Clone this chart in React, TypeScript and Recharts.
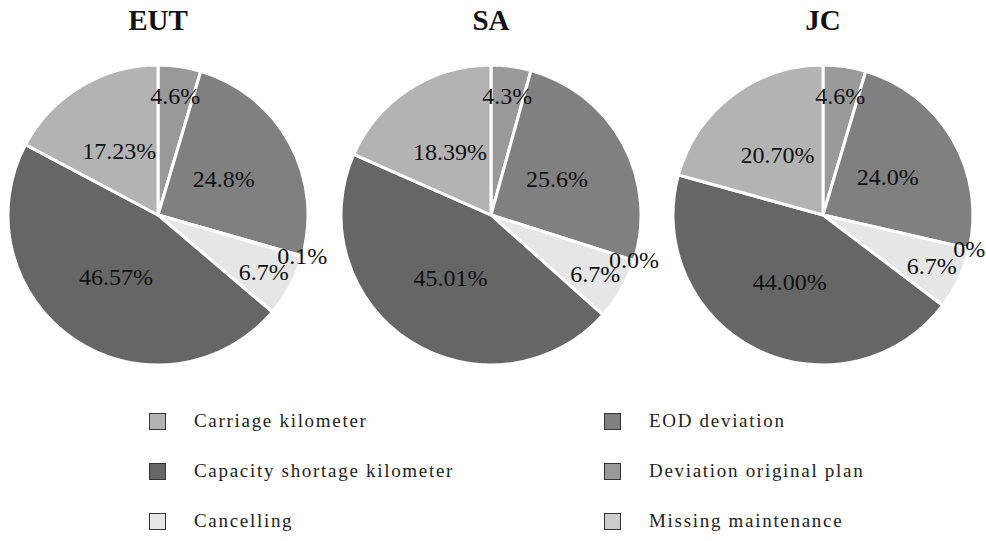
import React from "react";
import { PieChart, Pie, Cell } from "recharts";

// slice order, clockwise from 12 o'clock
const categories = [
  "Deviation original plan",
  "EOD deviation",
  "Missing maintenance",
  "Cancelling",
  "Capacity shortage kilometer",
  "Carriage kilometer",
];
const colors = ["#999999", "#808080", "#cccccc", "#e6e6e6", "#666666", "#b3b3b3"];

const titles = ["EUT", "SA", "JC"];
const eutValues = [4.6, 24.8, 0.1, 6.7, 46.57, 17.23];
const saValues = [4.3, 25.6, 0.0, 6.7, 45.01, 18.39];
const jcValues = [4.6, 24.0, 0, 6.7, 44.0, 20.7];
const eutLabels = ["4.6%", "24.8%", "0.1%", "6.7%", "46.57%", "17.23%"];
const saLabels = ["4.3%", "25.6%", "0.0%", "6.7%", "45.01%", "18.39%"];
const jcLabels = ["4.6%", "24.0%", "0%", "6.7%", "44.00%", "20.70%"];

const legendLeft = ["Carriage kilometer", "Capacity shortage kilometer", "Cancelling"];
const legendRight = ["EOD deviation", "Deviation original plan", "Missing maintenance"];

const series = [
  { values: eutValues, labels: eutLabels },
  { values: saValues, labels: saLabels },
  { values: jcValues, labels: jcLabels },
];

const FONT = "'Liberation Serif', 'DejaVu Serif', serif";
const RAD = Math.PI / 180;
const centers = [158, 491, 823];

const makeLabel = (labels: string[]) => (props: any) => {
  const { cx, cy, midAngle, outerRadius, value, index } = props;
  // small slices get pushed outwards
  const f = value < 1 ? 1.0 : value < 10 ? 0.8 : 0.5;
  const r = outerRadius * f;
  const x = cx + r * Math.cos(-midAngle * RAD);
  const y = cy + r * Math.sin(-midAngle * RAD);
  return (
    <text
      x={x}
      y={y}
      textAnchor="middle"
      dominantBaseline="central"
      fill="#111"
      fontSize={24}
      fontFamily={FONT}
    >
      {labels[index]}
    </text>
  );
};

const colorOf = (name: string) => colors[categories.indexOf(name)];

const LegendRow = ({ name, x, y }: { name: string; x: number; y: number }) => (
  <div style={{ position: "absolute", left: x, top: y - 10, height: 20, display: "flex", alignItems: "center" }}>
    <div
      style={{
        width: 15,
        height: 15,
        background: colorOf(name),
        border: "1px solid #333",
      }}
    />
    <span style={{ marginLeft: 28, fontFamily: FONT, fontSize: 19, letterSpacing: 1.7, color: "#222", whiteSpace: "nowrap" }}>
      {name}
    </span>
  </div>
);

export default function App() {
  return (
    <div style={{ position: "fixed", left: 0, top: 0, width: 986, height: 541, background: "#fff" }}>
      <PieChart width={986} height={380} margin={{ top: 0, right: 0, bottom: 0, left: 0 }}>
        {series.map((s, k) => (
          <Pie
            key={titles[k]}
            data={s.values.map((v, i) => ({ name: categories[i], value: v }))}
            dataKey="value"
            nameKey="name"
            cx={centers[k]}
            cy={215}
            outerRadius={150}
            startAngle={90}
            endAngle={-270}
            stroke="#ffffff"
            strokeWidth={3}
            labelLine={false}
            label={makeLabel(s.labels)}
            isAnimationActive={false}
          >
            {s.values.map((_, i) => (
              <Cell key={i} fill={colors[i]} />
            ))}
          </Pie>
        ))}
      </PieChart>
      {titles.map((t, k) => (
        <div
          key={t}
          style={{
            position: "absolute",
            left: centers[k] - 60,
            width: 120,
            top: 4,
            textAlign: "center",
            fontFamily: FONT,
            fontWeight: "bold",
            fontSize: 29,
            color: "#111",
          }}
        >
          {t}
        </div>
      ))}
      {legendLeft.map((n, i) => (
        <LegendRow key={n} name={n} x={149} y={421 + i * 50} />
      ))}
      {legendRight.map((n, i) => (
        <LegendRow key={n} name={n} x={604} y={421 + i * 50} />
      ))}
    </div>
  );
}
